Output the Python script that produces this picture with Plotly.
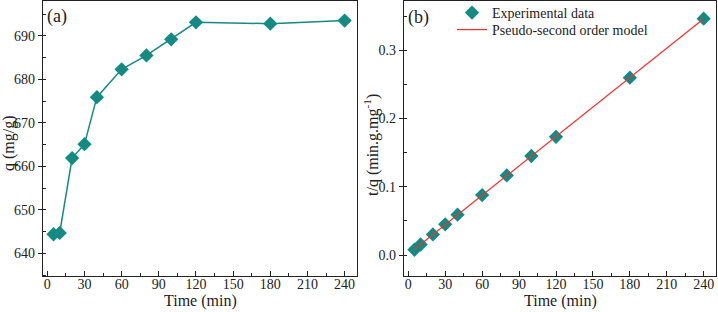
import plotly.graph_objects as go

time_min = [5, 10, 20, 30, 40, 60, 80, 100, 120, 180, 240]
q_mg_g = [644.4, 644.7, 661.9, 665.1, 675.9, 682.3, 685.5, 689.2, 693.1, 692.8, 693.5]
t_over_q = [0.0078, 0.0155, 0.0302, 0.0451, 0.0592, 0.0879, 0.1167, 0.1451, 0.1731, 0.2598, 0.3461]
fit_time = [5, 240]
fit_t_over_q = [0.0087, 0.3459]

TEAL = "#138b83"
RED = "#ff2a2a"
FONT = "Liberation Serif"
W, H = 718, 312
ML, MR, MT, MB = 43, 2, 1, 36
PW, PH = W - ML - MR, H - MT - MB


def px_x(px):
    return (px - ML) / PW


def px_y(py):
    return (H - MB - py) / PH


fig = go.Figure()
fig.add_trace(go.Scatter(x=time_min, y=q_mg_g, mode="lines+markers",
                         line=dict(color=TEAL, width=1.5),
                         marker=dict(symbol="diamond", size=11, color=TEAL),
                         showlegend=False, xaxis="x", yaxis="y"))
fig.add_trace(go.Scatter(x=time_min, y=t_over_q, mode="markers",
                         marker=dict(symbol="diamond", size=11, color=TEAL),
                         name="Experimental data", xaxis="x2", yaxis="y2",
                         legend="legend"))
fig.add_trace(go.Scatter(x=fit_time, y=fit_t_over_q, mode="lines",
                         line=dict(color=RED, width=1.2),
                         name="Pseudo-second order model", xaxis="x2", yaxis="y2",
                         legend="legend2"))

common_x = dict(range=[-3.5, 250], tick0=0, dtick=30, ticks="inside", ticklen=5,
                tickcolor="#222", tickwidth=1, automargin=False,
                ticklabelstandoff=-5,
                minor=dict(dtick=15, ticks="inside", ticklen=3, tickcolor="#222"),
                showline=True, linecolor="#222", linewidth=1.2, mirror=True,
                showgrid=False, zeroline=False,
                tickfont=dict(family=FONT, size=14, color="#222"))
common_y = dict(ticks="outside", ticklen=4, tickcolor="#222", tickwidth=1,
                automargin=False,
                showline=True, linecolor="#222", linewidth=1.2, mirror=True,
                showgrid=False, zeroline=False,
                tickfont=dict(family=FONT, size=14, color="#222"))


def ann(text, x, y, size, xanchor="center", angle=0):
    return dict(text=text, x=px_x(x), y=px_y(y), xref="paper", yref="paper",
                xanchor=xanchor, yanchor="middle", showarrow=False,
                textangle=angle, font=dict(family=FONT, size=size, color="#222"))


def leg(y):
    return dict(x=px_x(452), y=px_y(y), xanchor="left", yanchor="middle",
                bgcolor="rgba(0,0,0,0)", borderwidth=0,
                font=dict(family=FONT, size=14, color="#222"),
                tracegroupgap=0, itemwidth=30)


fig.update_layout(
    width=W, height=H,
    margin=dict(l=ML, r=MR, t=MT, b=MB, pad=0, autoexpand=False),
    paper_bgcolor="white", plot_bgcolor="white",
    font=dict(family=FONT, size=14, color="#222"),
    xaxis=dict(domain=[px_x(43), px_x(357)], anchor="y", **common_x),
    yaxis=dict(domain=[0, 1], anchor="x", range=[634.8, 698], tick0=640, dtick=10,
               minor=dict(dtick=5, ticks="inside", ticklen=3, tickcolor="#222"),
               **common_y),
    xaxis2=dict(domain=[px_x(404), px_x(716)], anchor="y2", **common_x),
    yaxis2=dict(domain=[0, 1], anchor="x2", range=[-0.0306, 0.372], tick0=0, dtick=0.1,
                tickformat=".1f",
                minor=dict(dtick=0.05, ticks="inside", ticklen=3, tickcolor="#222"),
                **common_y),
    legend=leg(13),
    legend2=leg(30),
    annotations=[
        ann("(a)", 45, 16, 18, xanchor="left"),
        ann("(b)", 406, 18, 18, xanchor="left"),
        ann("Time (min)", 200, 301, 16),
        ann("Time (min)", 560, 301, 16),
        ann("q (mg/g)", 9, 143, 16, angle=-90),
        ann("t/q (min.g.mg<sup>-1</sup>)", 371, 145, 16, angle=-90),
    ],
)

fig.write_html("out.html", config={"displayModeBar": False},
               post_script="document.body.style.margin='0';document.body.style.overflow='hidden';")
